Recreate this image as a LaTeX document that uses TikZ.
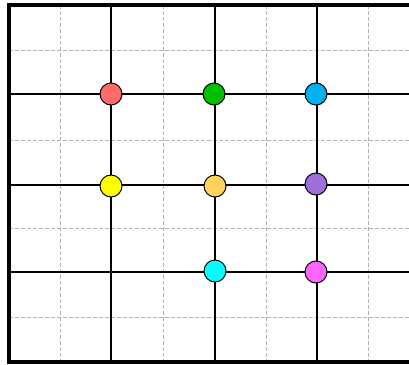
\documentclass[tikz,border=0pt]{standalone}
\usetikzlibrary{positioning}
\definecolor{cred}{HTML}{FF6B6B}
\definecolor{cgreen}{HTML}{00C000}
\definecolor{cblue}{HTML}{00B0F0}
\definecolor{cyellow}{HTML}{FFFF00}
\definecolor{cgold}{HTML}{FFD35C}
\definecolor{cpurple}{HTML}{A070D8}
\definecolor{ccyan}{HTML}{00FFFF}
\definecolor{cpink}{HTML}{FF66FF}

\begin{document}
\begin{tikzpicture}[
  x=1pt, y=-1pt,
  minor/.style={gray!60, dashed, dash pattern=on 4pt off 2pt, line width=0.8pt},
  major/.style={black, line width=1.5pt},
  frame/.style={black, line width=3.5pt},
  dot/.style={circle, draw, line width=1pt, minimum size=22pt, inner sep=0pt}
]
  \useasboundingbox (0,0) rectangle (409,364);

  % dashed mid lines
  \foreach \x in {60,163,266,368}
    \draw[minor] (\x,5) -- (\x,362);
  \foreach \y in {50,140,228,317}
    \draw[minor] (9,\y) -- (409,\y);

  % solid grid
  \foreach \x in {111,215,317}
    \draw[major] (\x,5) -- (\x,362);
  \foreach \y in {94,185,272}
    \draw[major] (9,\y) -- (409,\y);

  % frame
  \draw[frame] (409,5) -- (9,5) -- (9,362) -- (409,362);

  % dots on crossings
  \node[dot, fill=cred]    (r1c1) at (111,94)  {};
  \node[dot, fill=cgreen]  (r1c2) at (214,94)  {};
  \node[dot, fill=cblue]   (r1c3) at (316,94)  {};
  \node[dot, fill=cyellow] (r2c1) at (111,186) {};
  \node[dot, fill=cgold]   (r2c2) at (215,186) {};
  \node[dot, fill=cpurple] (r2c3) at (316,184) {};
  \node[dot, fill=ccyan]   (r3c2) at (215,271) {};
  \node[dot, fill=cpink]   (r3c3) at (316,272) {};
\end{tikzpicture}
\end{document}
